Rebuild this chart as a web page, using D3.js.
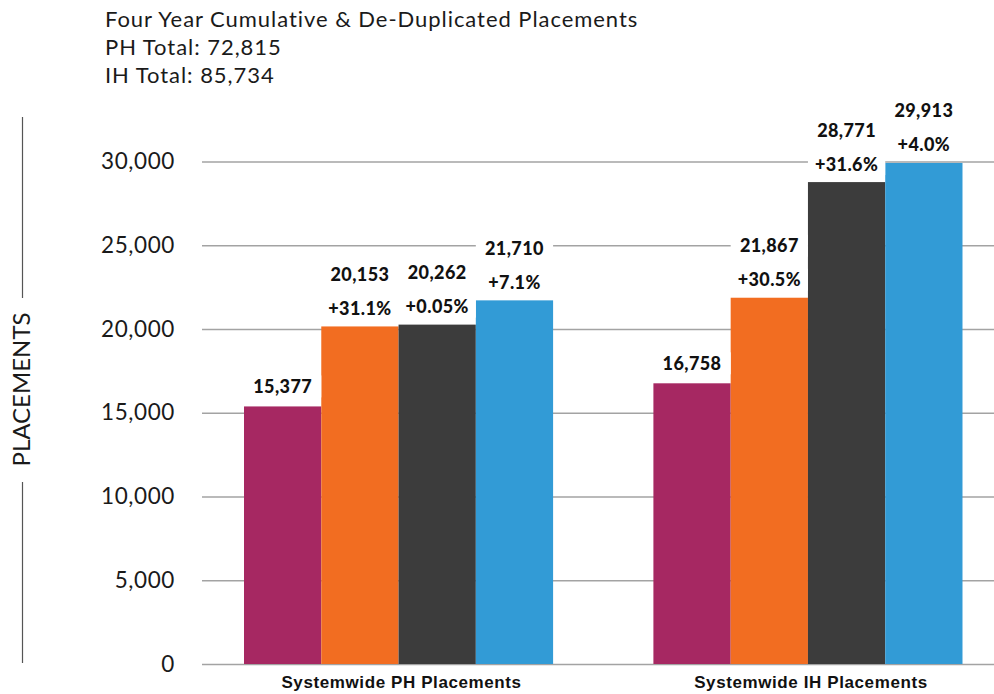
<!DOCTYPE html>
<html>
<head>
<meta charset="utf-8">
<script src="https://cdn.jsdelivr.net/npm/d3@7"></script>
<style>
  html, body { margin: 0; padding: 0; background: #fff; }
  svg { display: block; }
</style>
</head>
<body>
<svg id="chart" width="994" height="694"></svg>
<script>
const titleLines = ["Four Year Cumulative & De-Duplicated Placements", "PH Total: 72,815", "IH Total: 85,734"];
const categories = ["Systemwide PH Placements", "Systemwide IH Placements"];
const series = ["Year 1", "Year 2", "Year 3", "Year 4"];
const seriesColors = ["#A62862", "#F26D21", "#3C3C3C", "#329BD6"];
const phValues = [15377, 20153, 20262, 21710];
const ihValues = [16758, 21867, 28771, 29913];
const phChanges = ["", "+31.1%", "+0.05%", "+7.1%"];
const ihChanges = ["", "+30.5%", "+31.6%", "+4.0%"];
const yTicks = [0, 5000, 10000, 15000, 20000, 25000, 30000];
const yLabel = "PLACEMENTS";

const valuesByCat = [phValues, ihValues];
const changesByCat = [phChanges, ihChanges];
const rows = [];
categories.forEach((c, ci) => series.forEach((s, si) => rows.push({
  cat: c, ser: s, value: valuesByCat[ci][si], change: changesByCat[ci][si], color: seriesColors[si]
})));

const svg = d3.select("#chart");
const plotLeft = 202, plotRight = 994;

const y = d3.scaleLinear().domain([0, 30000]).range([664, 161.5]);
const x0 = d3.scaleBand().domain(categories).range([202, 1004.5]).paddingInner(0.245).paddingOuter(0.1026);
const x1 = d3.scaleBand().domain(series).range([0, x0.bandwidth()]).padding(0);

// Title
svg.append("g").selectAll("text").data(titleLines).join("text")
  .attr("x", 105).attr("y", (d, i) => 27 + i * 28)
  .style("font-family", "Lato, sans-serif").style("font-size", "22px").style("letter-spacing", "0.95px").style("fill", "#1a1a1a")
  .text(d => d);

// Y axis with gridlines
const yAxis = d3.axisLeft(y).tickValues(yTicks).tickSize(-(plotRight - plotLeft)).tickPadding(27)
  .tickFormat(d3.format(","));
const gy = svg.append("g").attr("transform", `translate(${plotLeft},0)`).call(yAxis);
gy.select(".domain").remove();
gy.selectAll(".tick line").attr("stroke", "#a3a3a3").attr("stroke-width", 1.5);
gy.selectAll(".tick text").style("font-family", "Lato, sans-serif").style("font-size", "22.5px")
  .style("letter-spacing", "0.6px").style("fill", "#1a1a1a");

// Y label with lines
svg.append("text").attr("transform", "translate(30,389.5) rotate(-90)")
  .attr("text-anchor", "middle")
  .style("font-family", "Lato, sans-serif").style("font-size", "24px").style("fill", "#1a1a1a")
  .text(yLabel);
svg.append("line").attr("x1", 22.5).attr("x2", 22.5).attr("y1", 117).attr("y2", 298).attr("stroke", "#555").attr("stroke-width", 1.2);
svg.append("line").attr("x1", 22.5).attr("x2", 22.5).attr("y1", 482).attr("y2", 663).attr("stroke", "#555").attr("stroke-width", 1.2);

// Bars
svg.append("g").selectAll("rect").data(rows).join("rect")
  .attr("x", d => x0(d.cat) + x1(d.ser))
  .attr("y", d => y(d.value))
  .attr("width", x1.bandwidth())
  .attr("height", d => y(0) - y(d.value))
  .attr("fill", d => d.color);

// Labels with white backgrounds
const labels = [];
rows.forEach(d => {
  const top = y(d.value);
  const cx = x0(d.cat) + x1(d.ser) + x1.bandwidth() / 2;
  if (d.change) {
    labels.push({ cx, cy: top - 52, text: d3.format(",")(d.value), w: x1.bandwidth() });
    labels.push({ cx, cy: top - 18, text: d.change, w: x1.bandwidth() });
  } else {
    labels.push({ cx, cy: top - 20, text: d3.format(",")(d.value), w: x1.bandwidth() });
  }
});
const lg = svg.append("g");
lg.selectAll("rect").data(labels).join("rect")
  .attr("x", d => d.cx - d.w / 2).attr("y", d => d.cy - 11).attr("width", d => d.w).attr("height", 22)
  .attr("fill", "#fff");
lg.selectAll("text").data(labels).join("text")
  .attr("x", d => d.cx).attr("y", d => d.cy + 6.5)
  .attr("text-anchor", "middle")
  .style("font-family", "Lato, sans-serif").style("font-weight", "900").style("font-size", "18px")
  .style("letter-spacing", "0.4px").style("fill", "#111")
  .text(d => d.text);

// Category labels
svg.append("g").selectAll("text").data(categories).join("text")
  .attr("x", d => x0(d) + x0.bandwidth() / 2 + 3).attr("y", 688)
  .attr("text-anchor", "middle")
  .style("font-family", "'Liberation Sans', Arial, sans-serif").style("font-weight", "bold")
  .style("font-size", "17px").style("letter-spacing", "0.6px").style("fill", "#111")
  .text(d => d);
</script>
</body>
</html>
